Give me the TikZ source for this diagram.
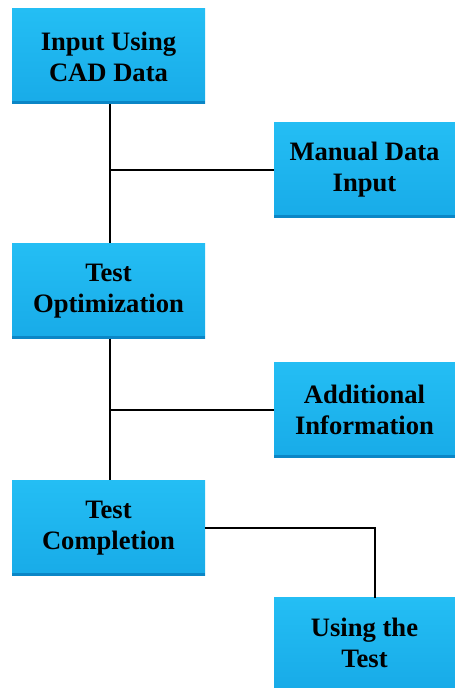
\documentclass[tikz,border=0pt]{standalone}
\usepackage{fontspec}
\setmainfont{Liberation Serif}

\definecolor{boxtop}{HTML}{24BEF4}
\definecolor{boxbottom}{HTML}{18ABE8}
\definecolor{boxedge}{HTML}{0B86C6}

\tikzset{
	stagebox/.style={rectangle, minimum width=193pt, minimum height=95pt, inner sep=0pt,
		top color=boxtop, bottom color=boxbottom, align=center,
		font=\fontsize{26.6}{31}\selectfont\bfseries},
	sidebox/.style={stagebox, minimum width=181pt},
	link/.style={line width=2pt, black}
}

\begin{document}
\begin{tikzpicture}[x=1pt, y=1pt]
		\useasboundingbox (0,0) rectangle (455,688);

		\node[stagebox] (cad) at (108.5,631.5) {Input Using\\CAD Data};
		\node[sidebox] (manual) at (364.5,518) {Manual Data\\Input};
		\node[stagebox] (optim) at (108.5,397) {Test\\Optimization};
		\node[sidebox] (addinfo) at (364.5,278) {Additional\\Information};
		\node[stagebox] (compl) at (108.5,160) {Test\\Completion};
		\node[sidebox, minimum height=90pt] (usetest) at (364.5,45) {Using the\\Test};

		% darker bottom rims
		\foreach \b in {cad, manual, optim, addinfo, compl}
			\fill[boxedge] (\b.south west) rectangle ([yshift=3pt]\b.south east);

		\draw[link] ([xshift=1.5pt]cad.south) -- ([xshift=1.5pt]optim.north);
		\draw[link] ([xshift=1.5pt]optim.south) -- ([xshift=1.5pt]compl.north);
		\draw[link] (110,518) -- (manual.west);
		\draw[link] (110,278) -- (addinfo.west);
		\draw[link] (compl.east) -| ([xshift=10.5pt]usetest.north);

	\end{tikzpicture}
\end{document}
